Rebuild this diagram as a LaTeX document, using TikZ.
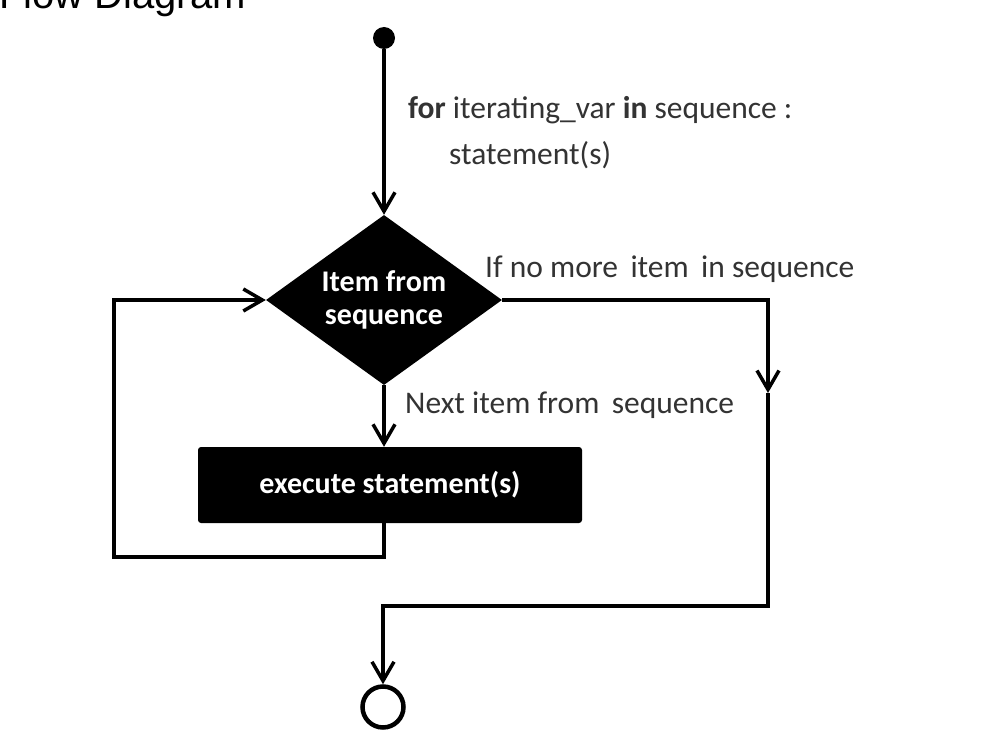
\documentclass[tikz,border=0pt]{standalone}
\usepackage{fontspec}
\setmainfont{Carlito}
\newfontfamily\titlefont{Liberation Sans}
\usetikzlibrary{arrows.meta,shapes.geometric}
\definecolor{labelgray}{HTML}{333333}
\begin{document}
\begin{tikzpicture}[x=1pt,y=-1pt,
  flow/.style={line width=3.5pt,draw=black,
    >={Straight Barb[length=19pt,width=22pt]}},
  decision/.style={diamond,aspect=1.39,fill=black,inner sep=0pt,
    minimum width=236pt,minimum height=170pt,
    text=white,font=\fontsize{30}{33}\selectfont\bfseries,align=center},
  action/.style={rectangle,fill=black,rounded corners=3pt,
    minimum width=384pt,minimum height=76pt,inner sep=0pt,
    text=white,font=\fontsize{30}{33}\selectfont\bfseries},
  lbl/.style={anchor=base west,inner sep=0pt,text=labelgray,
    font=\fontsize{31.5}{34}\selectfont},
  startdot/.style={circle,fill=black,minimum size=22pt,inner sep=0pt},
  stopring/.style={circle,draw=black,line width=4.5pt,minimum size=41pt,inner sep=0pt}]

\clip (0,0) rectangle (994,754);
\useasboundingbox (0,0) rectangle (994,754);
\fill[white] (0,0) rectangle (994,754);

% heading, mostly above the top edge
\node[anchor=base west,inner sep=0pt,font=\titlefont\fontsize{40}{44}\selectfont]
  (title) at (-1,9) {Flow Diagram};

% nodes
\node[startdot] (start) at (384,38) {};
\node[decision] (dec) at (384,300) {Item from\\sequence};
\node[action] (exec) at (390,485) {execute statement(s)};
\node[stopring] (stop) at (383,707) {};

% labels
\node[lbl] (header) at (408,119) {\textbf{for} iterating\_var \textbf{in} sequence :};
\node[lbl] (body) at (449,165) {statement(s)};
\node[lbl] (nomore) at (485,278) {If no more\, item\, in sequence};
\node[lbl] (next) at (405,413) {Next item from\, sequence};

% helper points for the routed connectors
\coordinate (loopcorner) at (114,557);
\coordinate (midarrow) at (768,393);
\coordinate (exitcorner) at (768,606);

% connectors
\draw[flow,->] (start) -- (dec.north);
\draw[flow,->] (dec.south) -- (dec.south |- exec.north);
\draw[flow,->] (exec.south -| dec.south) |- (loopcorner) |- (dec.west);
\draw[flow,->] (dec.east) -| (midarrow);
\draw[flow,->] (midarrow) -- (exitcorner) -| (stop.north);
\end{tikzpicture}
\end{document}
